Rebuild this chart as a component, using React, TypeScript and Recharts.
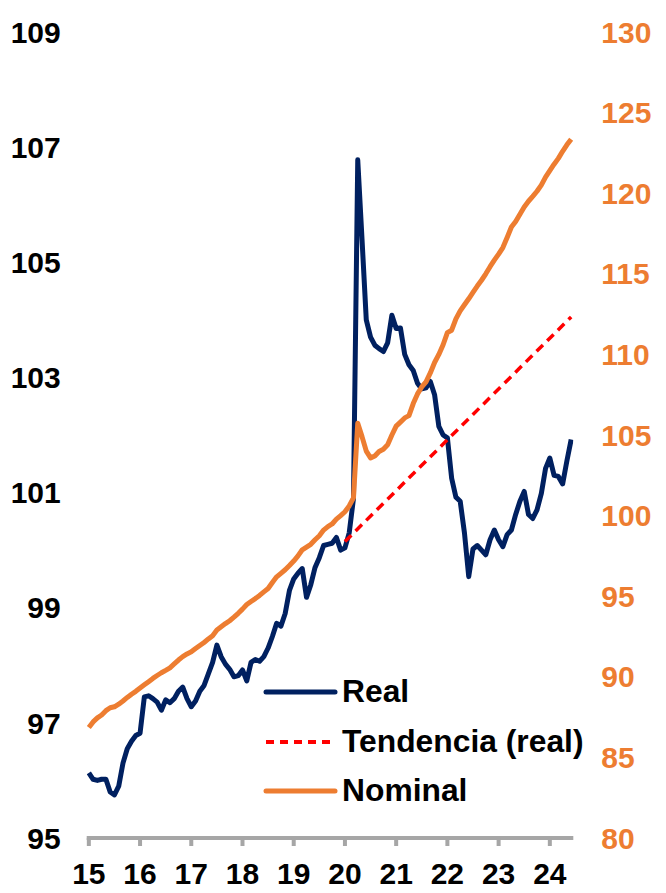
import { Legend, Line, LineChart, XAxis, YAxis } from 'recharts'

// monthly, Jan 2015 .. Jun 2024
const REAL = [
  96.13, 96.02, 96.0, 96.02, 96.02, 95.8, 95.75, 95.9, 96.3, 96.55, 96.68, 96.78,
  96.82, 97.45, 97.47, 97.42, 97.36, 97.22, 97.4, 97.35, 97.42, 97.55, 97.62, 97.42,
  97.28, 97.38, 97.55, 97.65, 97.85, 98.05, 98.35, 98.15, 98.02, 97.93, 97.8, 97.82,
  97.92, 97.73, 98.05, 98.1, 98.07, 98.15, 98.3, 98.5, 98.73, 98.68, 98.9, 99.3,
  99.5, 99.6, 99.68, 99.18, 99.4, 99.7, 99.87, 100.08, 100.1, 100.12, 100.22, 100.0,
  100.04, 100.3, 100.9, 106.78, 105.4, 104.0, 103.7, 103.56, 103.5, 103.45, 103.6, 104.08,
  103.85, 103.86, 103.4, 103.22, 103.12, 102.9, 102.8, 102.82, 102.93, 102.7, 102.15, 102.0,
  101.95, 101.25, 100.92, 100.85, 100.3, 99.54, 100.02, 100.08, 100.0, 99.92, 100.18, 100.35,
  100.18, 100.06, 100.27, 100.35, 100.62, 100.85, 101.02, 100.62, 100.55, 100.7, 100.98, 101.42,
  101.6, 101.3, 101.28, 101.15, 101.55, 101.92,
]

const NOMINAL = [
  86.85, 87.2, 87.45, 87.63, 87.9, 88.08, 88.14, 88.3, 88.5, 88.72, 88.92, 89.1,
  89.3, 89.5, 89.7, 89.9, 90.08, 90.25, 90.4, 90.56, 90.8, 91.04, 91.25, 91.42,
  91.55, 91.75, 91.94, 92.13, 92.35, 92.55, 92.9, 93.1, 93.3, 93.48, 93.7, 93.94,
  94.2, 94.48, 94.67, 94.85, 95.05, 95.27, 95.48, 95.85, 96.2, 96.42, 96.64, 96.9,
  97.18, 97.5, 97.88, 98.05, 98.22, 98.5, 98.75, 99.1, 99.32, 99.48, 99.78, 100.0,
  100.24, 100.6, 101.1, 105.73, 104.9, 104.0, 103.58, 103.7, 103.98, 104.12, 104.4, 105.0,
  105.55, 105.8, 106.06, 106.2, 106.95, 107.55, 107.98, 108.3, 108.85, 109.5, 110.0, 110.6,
  111.35, 111.5, 112.2, 112.7, 113.08, 113.45, 113.85, 114.24, 114.6, 115.0, 115.44, 115.85,
  116.22, 116.63, 117.25, 117.9, 118.25, 118.7, 119.15, 119.5, 119.8, 120.12, 120.5, 121.0,
  121.4, 121.8, 122.16, 122.6, 123.0, 123.35,
]

// linear trend of the real index, from Jan 2020 to the last month
const TREND_MONTHS = [60, 113]
const TREND_VALUES = [100.15, 104.05]

const YEAR_LABELS = ['15', '16', '17', '18', '19', '20', '21', '22', '23', '24']
const LEFT_TICKS = [95, 97, 99, 101, 103, 105, 107, 109]
const RIGHT_TICKS = [80, 85, 90, 95, 100, 105, 110, 115, 120, 125, 130]

const SERIES = [
  { key: 'real', name: 'Real', color: '#002060', dash: undefined as string | undefined },
  { key: 'trend', name: 'Tendencia (real)', color: '#FF0000', dash: '9 6' },
  { key: 'nominal', name: 'Nominal', color: '#ED7D31', dash: undefined as string | undefined },
]

const FONT = '"Liberation Sans", Arial, sans-serif'

const data = REAL.map((v, i) => {
  const ti = TREND_MONTHS.indexOf(i)
  return { t: i, real: v, nominal: NOMINAL[i], trend: ti >= 0 ? TREND_VALUES[ti] : null }
})

function ChartLegend() {
  return (
    <div style={{ fontFamily: FONT, fontWeight: 700, fontSize: 31.8, color: '#000' }}>
      {SERIES.map((s) => (
        <div key={s.key} style={{ display: 'flex', alignItems: 'center', height: 49.7 }}>
          <svg width={78} height={10} style={{ marginRight: 1 }}>
            <line
              x1={3}
              y1={5}
              x2={72}
              y2={5}
              stroke={s.color}
              strokeWidth={s.dash ? 4 : 5}
              strokeDasharray={s.dash ? '8 6' : undefined}
              strokeLinecap={s.dash ? 'butt' : 'round'}
            />
          </svg>
          <span style={{ lineHeight: 1, whiteSpace: 'nowrap' }}>{s.name}</span>
        </div>
      ))}
    </div>
  )
}

export default function App() {
  return (
    <div style={{ position: 'absolute', left: 0, top: 0, width: 666, height: 893, background: '#fff' }}>
      <LineChart width={666} height={893} data={data} margin={{ top: 32, right: 0, bottom: 0, left: 0 }}>
        <XAxis
          dataKey="t"
          type="number"
          domain={[-0.5, 113.5]}
          ticks={YEAR_LABELS.map((_, i) => i * 12)}
          tickFormatter={(t: number) => YEAR_LABELS[Math.round(t / 12)]}
          height={55}
          axisLine={{ stroke: '#A6A6A6', strokeWidth: 4 }}
          tickLine={{ stroke: '#A6A6A6', strokeWidth: 4 }}
          tickSize={8}
          tickMargin={17}
          tick={{ fontFamily: FONT, fontWeight: 700, fontSize: 30, fill: '#000' }}
          allowDataOverflow
        />
        <YAxis
          yAxisId="left"
          domain={[95, 109]}
          ticks={LEFT_TICKS}
          width={86.7}
          axisLine={false}
          tickLine={false}
          tickSize={0}
          tickMargin={26}
          tick={{ fontFamily: FONT, fontWeight: 700, fontSize: 30, fill: '#000' }}
          allowDataOverflow
        />
        <YAxis
          yAxisId="right"
          orientation="right"
          domain={[80, 130]}
          ticks={RIGHT_TICKS}
          width={92.7}
          axisLine={false}
          tickLine={false}
          tickSize={0}
          tickMargin={28}
          tick={{ fontFamily: FONT, fontWeight: 700, fontSize: 30, fill: '#ED7D31', textAnchor: 'start' }}
          allowDataOverflow
        />
        <Legend
          layout="vertical"
          align="center"
          verticalAlign="middle"
          content={<ChartLegend />}
          wrapperStyle={{ left: 263, top: 667, width: 350 }}
        />
        <Line
          yAxisId="left"
          type="linear"
          dataKey="real"
          name="Real"
          stroke="#002060"
          strokeWidth={5}
          strokeLinejoin="round"
          dot={false}
          activeDot={false}
          isAnimationActive={false}
        />
        <Line
          yAxisId="left"
          type="linear"
          dataKey="trend"
          name="Tendencia (real)"
          stroke="#FF0000"
          strokeWidth={3.5}
          strokeDasharray="9 6"
          dot={false}
          activeDot={false}
          connectNulls
          isAnimationActive={false}
        />
        <Line
          yAxisId="right"
          type="linear"
          dataKey="nominal"
          name="Nominal"
          stroke="#ED7D31"
          strokeWidth={5}
          strokeLinejoin="round"
          dot={false}
          activeDot={false}
          isAnimationActive={false}
        />
      </LineChart>
    </div>
  )
}
